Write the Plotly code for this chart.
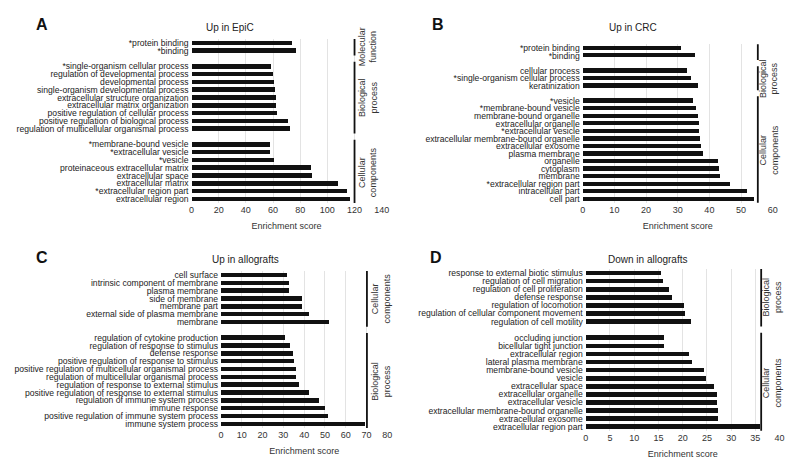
import plotly.graph_objects as go

# ---------------- data ----------------
A_title = "Up in EpiC"
A_groups = ["Molecular<br>function", "Biological<br>process", "Cellular<br>components"]
A_mf_terms = ["*protein binding", "*binding"]
A_mf_vals = [73.5, 76.5]
A_bp_terms = ["*single-organism cellular process", "regulation of developmental process",
              "developmental process", "single-organism developmental process",
              "extracellular structure organization", "extracellular matrix organization",
              "positive regulation of cellular process", "positive regulation of biological process",
              "regulation of multicellular organismal process"]
A_bp_vals = [58.5, 59.7, 60.4, 61.0, 61.6, 61.8, 62.3, 70.8, 72.0]
A_cc_terms = ["*membrane-bound vesicle", "*extracellular vesicle", "*vesicle",
              "proteinaceous extracellular matrix", "extracellular space", "extracellular matrix",
              "*extracellular region part", "extracellular region"]
A_cc_vals = [57.5, 57.5, 60.7, 87.3, 88.3, 107.8, 114.2, 116.6]
A_ticks = [0, 20, 40, 60, 80, 100, 120, 140]

B_title = "Up in CRC"
B_groups = ["Molecular<br>function", "Biological<br>process", "Cellular<br>components"]
B_mf_terms = ["*protein binding", "*binding"]
B_mf_vals = [30.9, 35.3]
B_bp_terms = ["cellular process", "*single-organism cellular process", "keratinization"]
B_bp_vals = [32.7, 34.1, 36.3]
B_cc_terms = ["*vesicle", "*membrane-bound vesicle", "membrane-bound organelle",
              "extracellular organelle", "*extracellular vesicle",
              "extracellular membrane-bound organelle", "extracellular exosome",
              "plasma membrane", "organelle", "cytoplasm", "membrane",
              "*extracellular region part", "intracellular part", "cell part"]
B_cc_vals = [34.7, 35.6, 36.2, 36.6, 36.7, 37.1, 37.2, 37.9, 42.6, 42.8, 43.4, 46.5, 51.9, 53.9]
B_ticks = [0, 10, 20, 30, 40, 50, 60]

C_title = "Up in allografts"
C_groups = ["Cellular<br>components", "Biological<br>process"]
C_cc_terms = ["cell surface", "intrinsic component of membrane", "plasma membrane",
              "side of membrane", "membrane part", "external side of plasma membrane", "membrane"]
C_cc_vals = [31.9, 32.5, 32.5, 38.8, 38.8, 42.3, 51.9]
C_bp_terms = ["regulation of cytokine production", "regulation of response to stimulus",
              "defense response", "positive regulation of response to stimulus",
              "positive regulation of multicellular organismal process",
              "regulation of multicellular organismal process",
              "regulation of response to external stimulus",
              "positive regulation of response to external stimulus",
              "regulation of immune system process", "immune response",
              "positive regulation of immune system process", "immune system process"]
C_bp_vals = [31.0, 33.3, 34.7, 35.0, 36.2, 36.3, 37.4, 42.1, 47.0, 49.9, 51.7, 69.3]
C_ticks = [0, 10, 20, 30, 40, 50, 60, 70, 80]

D_title = "Down in allografts"
D_groups = ["Biological<br>process", "Cellular<br>components"]
D_bp_terms = ["response to external biotic stimulus", "regulation of cell migration",
              "regulation of cell proliferation", "defense response", "regulation of locomotion",
              "regulation of cellular component movement", "regulation of cell motility"]
D_bp_vals = [15.4, 15.8, 17.1, 17.8, 20.2, 20.5, 21.6]
D_cc_terms = ["occluding junction", "bicellular tight junction", "extracellular region",
              "lateral plasma membrane", "membrane-bound vesicle", "vesicle",
              "extracellular space", "extracellular organelle", "extracellular vesicle",
              "extracellular membrane-bound organelle", "extracellular exosome",
              "extracellular region part"]
D_cc_vals = [16.0, 16.0, 21.2, 21.8, 24.3, 24.8, 26.5, 27.0, 27.0, 27.2, 27.2, 35.9]
D_ticks = [0, 5, 10, 15, 20, 25, 30, 35, 40]

# ---------------- layout constants (pixels) ----------------
W, H = 800, 459
FONT = "Liberation Sans, Arial, sans-serif"
panels = [
    dict(letter="A", title=A_title, groups=A_groups,
         terms=[A_mf_terms, A_bp_terms, A_cc_terms], vals=[A_mf_vals, A_bp_vals, A_cc_vals],
         ticks=A_ticks, x0=191.5, x1=381.7, ytop=43, step=7.8, bracket=120, lab=129.5,
         letter_xy=(42, 25), title_xy=(230, 27), lab_shift=[0, 0, 0]),
    dict(letter="B", title=B_title, groups=B_groups,
         terms=[B_mf_terms, B_bp_terms, B_cc_terms], vals=[B_mf_vals, B_bp_vals, B_cc_vals],
         ticks=B_ticks, x0=582.7, x1=772.7, ytop=48, step=7.55, bracket=55.3, lab=58.8,
         letter_xy=(438, 25), title_xy=(633, 27), lab_shift=[-1.5, 0, 0]),
    dict(letter="C", title=C_title, groups=C_groups,
         terms=[C_cc_terms, C_bp_terms], vals=[C_cc_vals, C_bp_vals],
         ticks=C_ticks, x0=221, x1=387.3, ytop=275, step=7.84, bracket=70.2, lab=76.9,
         letter_xy=(42, 257), title_xy=(245, 259), lab_shift=[0, 0]),
    dict(letter="D", title=D_title, groups=D_groups,
         terms=[D_bp_terms, D_cc_terms], vals=[D_bp_vals, D_cc_vals],
         ticks=D_ticks, x0=585.7, x1=779.6, ytop=273, step=8.09, bracket=36.2, lab=38.5,
         letter_xy=(436, 257), title_xy=(647, 259), lab_shift=[0, 0]),
]

def px(x):
    return x / W

def py(y):
    return 1 - y / H

fig = go.Figure()
layout = {}
shapes = []
annotations = []

for i, p in enumerate(panels):
    sfx = "" if i == 0 else str(i + 1)
    xa, ya = "x" + sfx, "y" + sfx
    # build slot positions: one empty slot between groups
    ys, xs, labels = [], [], []
    spans = []
    slot = 0
    for g, (terms, vals) in enumerate(zip(p["terms"], p["vals"])):
        start = slot
        for t, v in zip(terms, vals):
            ys.append(slot)
            xs.append(v)
            labels.append(t)
            slot += 1
        spans.append((start, slot - 1))
        slot += 1
    n = slot - 1
    fig.add_trace(go.Bar(x=xs, y=ys, orientation="h", width=0.57,
                         marker=dict(color="#111111", line=dict(width=0)),
                         xaxis=xa, yaxis=ya, showlegend=False, hoverinfo="x+text",
                         text=labels, textposition="none"))
    ybot = p["ytop"] + (n - 0.5) * p["step"]
    ytop = p["ytop"] - 0.5 * p["step"]
    layout["xaxis" + sfx] = dict(
        domain=[px(p["x0"]), px(p["x1"])], anchor=ya, range=[0, p["ticks"][-1]],
        tickvals=p["ticks"], showgrid=True, gridcolor="#e3e3e3", gridwidth=1,
        zeroline=False, showline=False, ticks="", fixedrange=True,
        tickfont=dict(size=9, color="#333333", family=FONT),
        title=dict(text="Enrichment score", font=dict(size=9, color="#333333", family=FONT),
                   standoff=8))
    layout["yaxis" + sfx] = dict(
        domain=[py(ybot), py(ytop)], anchor=xa, range=[n - 0.5, -0.5],
        tickvals=ys, ticktext=labels, showgrid=False, zeroline=False, showline=False,
        ticks="", fixedrange=True, ticklabelstandoff=2,
        tickfont=dict(size=8.6, color="#222222", family=FONT))
    # group brackets and labels
    for g, (s, e) in enumerate(spans):
        shapes.append(dict(type="line", xref=xa, yref=ya, x0=p["bracket"], x1=p["bracket"],
                           y0=s - 0.6, y1=e + 0.6, line=dict(color="#111111", width=1.8)))
        annotations.append(dict(text=p["groups"][g], xref=xa, yref=ya, x=p["lab"],
                                y=(s + e) / 2 + p["lab_shift"][g], showarrow=False,
                                textangle=-90, xanchor="center", yanchor="middle",
                                font=dict(size=9, color="#333333", family=FONT)))
    annotations.append(dict(text=p["title"], xref="paper", yref="paper",
                            x=px(p["title_xy"][0]), y=py(p["title_xy"][1]), showarrow=False,
                            xanchor="center", yanchor="middle",
                            font=dict(size=10, color="#222222", family=FONT)))
    annotations.append(dict(text="<b>" + p["letter"] + "</b>", xref="paper", yref="paper",
                            x=px(p["letter_xy"][0]), y=py(p["letter_xy"][1]), showarrow=False,
                            xanchor="center", yanchor="middle",
                            font=dict(size=16, color="#111111", family=FONT)))

fig.update_layout(width=W, height=H, margin=dict(l=0, r=0, t=0, b=0, autoexpand=False),
                  paper_bgcolor="white", plot_bgcolor="white", bargap=0,
                  shapes=shapes, annotations=annotations, **layout)
fig.write_html("out.html", config={"displayModeBar": False},
               post_script="document.body.style.margin='0';document.body.style.overflow='hidden';")
